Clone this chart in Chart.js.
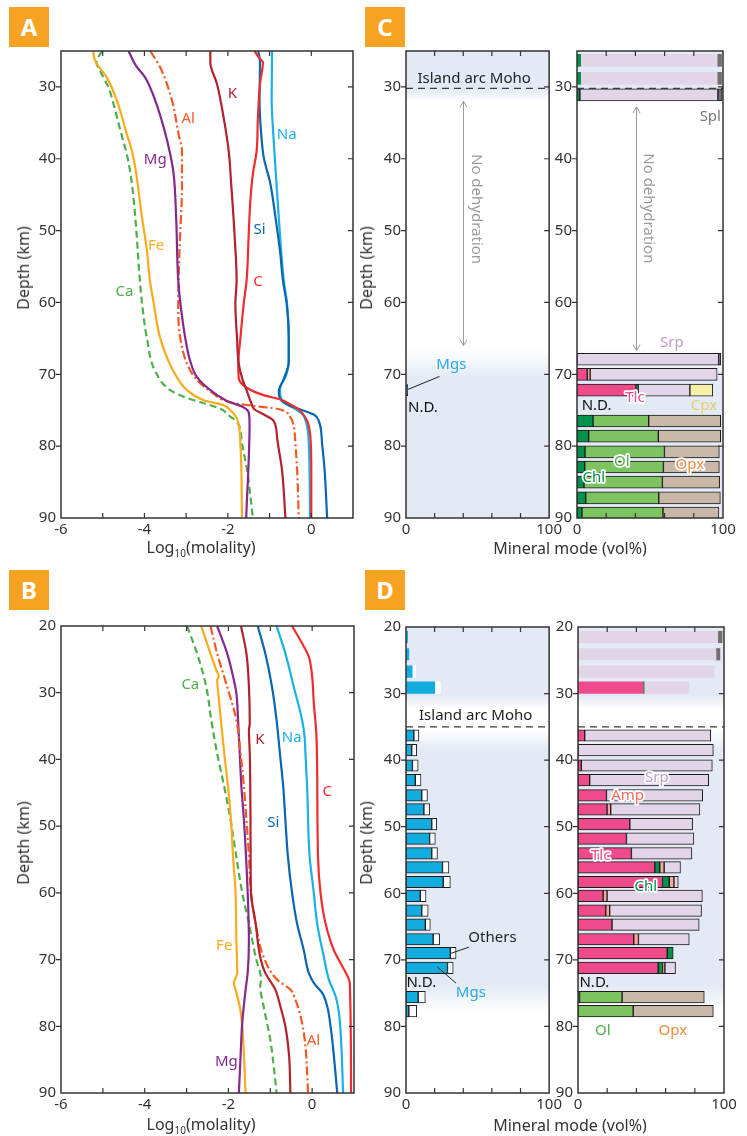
<!DOCTYPE html>
<html lang="en">
<head>
  <meta charset="UTF-8" />
  <title>Fluid chemistry and mineral modes</title>
  <script src="https://cdn.jsdelivr.net/npm/chart.js"></script>
  <style>
    body { margin: 0; background: #fff; font-family: 'Noto Sans', 'DejaVu Sans', sans-serif; color: #333; }
    #fig { position: relative; width: 747px; height: 1136px; overflow: hidden; }
    canvas { position: absolute; }
    .tag {
      position: absolute; width: 40px; height: 40px; background: #F6A323; color: #fff;
      font: bold 24px 'Noto Sans', sans-serif; text-align: center; line-height: 40px;
    }
    .ttl { position: absolute; font-size: 16px; white-space: nowrap; transform: translate(-50%, -50%); }
    .ttl.v { transform: translate(-50%, -50%) rotate(-90deg); }
    .ttl sub { font-size: 10px; }
  </style>
</head>
<body>
<div id="fig">
  <canvas id="chartA" width="370" height="560" style="left:0;top:0"></canvas>
  <canvas id="chartB" width="370" height="560" style="left:0;top:570px"></canvas>
  <canvas id="chartC1" width="200" height="560" style="left:365px;top:0"></canvas>
  <canvas id="chartC2" width="197" height="560" style="left:550px;top:0"></canvas>
  <canvas id="chartD1" width="200" height="560" style="left:365px;top:570px"></canvas>
  <canvas id="chartD2" width="197" height="560" style="left:550px;top:570px"></canvas>

  <div class="tag" style="left:9px;top:7px">A</div>
  <div class="tag" style="left:9px;top:570px">B</div>
  <div class="tag" style="left:365px;top:7px">C</div>
  <div class="tag" style="left:365px;top:570px">D</div>

  <div class="ttl v" style="left:23px;top:268px">Depth (km)</div>
  <div class="ttl v" style="left:23px;top:843px">Depth (km)</div>
  <div class="ttl v" style="left:366px;top:268px">Depth (km)</div>
  <div class="ttl v" style="left:366px;top:843px">Depth (km)</div>
  <div class="ttl" style="left:201px;top:548px">Log<sub>10</sub>(molality)</div>
  <div class="ttl" style="left:201px;top:1125px">Log<sub>10</sub>(molality)</div>
  <div class="ttl" style="left:570px;top:548px">Mineral mode (vol%)</div>
  <div class="ttl" style="left:570px;top:1125px">Mineral mode (vol%)</div>
</div>

<script>
  // ---- tick labels ----
  const depthTicksA = [30, 40, 50, 60, 70, 80, 90];
  const depthTicksB = [20, 30, 40, 50, 60, 70, 80, 90];
  const logTicks = [-6, -5, -4, -3, -2, -1, 0, 1];
  const modeTicks = [0, 20, 40, 60, 80, 100];

  // ---- A: [depth km, log10 molality] ----
  const A_K  = [[25,-2.42],[26.6,-2.42],[29.6,-2.26],[34.3,-2.10],[38.9,-1.98],[43.5,-1.92],[50.5,-1.84],[56.9,-1.79],[60.2,-1.82],[65,-1.78],[68.5,-1.74],[70.5,-1.66],[72.4,-1.54],[74,-1.44],[74.9,-1.36],[75.6,-1.14],[76.5,-0.90],[78.8,-0.82],[83.4,-0.70],[90,-0.62]];
  const A_C  = [[25,-1.36],[25.9,-1.26],[26.6,-1.16],[29.6,-1.23],[34.3,-1.28],[38.9,-1.31],[42.1,-1.40],[45.8,-1.46],[50.5,-1.50],[56.9,-1.55],[60.2,-1.62],[65,-1.70],[68.5,-1.75],[70.5,-1.74],[71.9,-1.54],[72.9,-1.14],[73.5,-0.74],[74.2,-0.50],[74.9,-0.30],[76.5,-0.10],[78.8,-0.02],[83.4,0.0],[90,0.0]];
  const A_Si = [[25,-1.27],[26.6,-1.23],[31.9,-1.24],[36.6,-1.20],[39.8,-1.14],[43.5,-0.98],[48.1,-0.86],[52.8,-0.75],[56.9,-0.68],[60.2,-0.59],[65,-0.54],[68.2,-0.54],[70.8,-0.67],[72.4,-0.78],[73.5,-0.74],[74.2,-0.58],[74.9,-0.26],[75.6,0.06],[76.5,0.18],[79.7,0.26],[83.4,0.32],[90,0.38]];
  const A_Na = [[25,-0.94],[31.9,-0.95],[36.6,-0.91],[41.2,-0.86],[48.1,-0.78],[56.9,-0.66],[60.2,-0.58],[65,-0.54],[68.2,-0.54],[70.4,-0.62],[71.9,-0.75],[73.5,-0.72],[74.7,-0.42],[75.5,-0.22],[77,-0.11],[79.7,-0.06],[90,-0.03]];
  const A_Mg = [[25,-4.38],[26.9,-4.22],[28.7,-3.98],[31.9,-3.74],[35.6,-3.54],[39.4,-3.38],[42.1,-3.30],[48.1,-3.24],[56.9,-3.19],[60,-3.14],[65,-3.02],[68.2,-2.90],[70.4,-2.74],[72.2,-2.42],[73.7,-2.02],[74.6,-1.62],[75.3,-1.50],[77,-1.48],[90,-1.56]];
  const A_Al = [[25,-3.86],[27.3,-3.62],[31.9,-3.34],[36.6,-3.18],[38.9,-3.10],[43.5,-3.10],[52.8,-3.16],[56.9,-3.18],[60.2,-3.19],[65,-3.14],[68.5,-2.98],[70.8,-2.74],[72.7,-2.34],[73.9,-1.94],[74.4,-1.38],[74.8,-0.82],[76,-0.50],[77,-0.43],[79.7,-0.38],[83.3,-0.34],[90,-0.30]];
  const A_Fe = [[25,-5.23],[26.4,-5.18],[28.7,-4.90],[31.9,-4.66],[36.6,-4.42],[38.9,-4.30],[41.2,-4.22],[48.1,-4.06],[52.8,-3.94],[56.9,-3.87],[60,-3.78],[65,-3.62],[69.6,-3.30],[72.2,-2.98],[73.6,-2.58],[74.3,-2.10],[75,-1.94],[76.2,-1.78],[79.7,-1.70],[90,-1.66]];
  const A_Ca = [[25,-5.02],[26.6,-5.15],[27.8,-5.06],[30.1,-4.86],[33.3,-4.70],[37.5,-4.51],[39.4,-4.42],[43.5,-4.30],[48.1,-4.22],[56.9,-4.11],[60,-4.06],[65,-3.94],[69.6,-3.74],[72.2,-3.38],[73.3,-2.98],[74,-2.58],[74.8,-2.18],[75.9,-1.94],[76.6,-1.78],[79.7,-1.66],[83.3,-1.54],[90,-1.40]];

  // ---- B: [depth km, log10 molality] ----
  const B_C  = [[20,-0.48],[22.6,-0.24],[24.6,-0.08],[27.6,0.0],[31.6,0.04],[36.1,0.10],[41.6,0.12],[54.5,0.14],[60,0.20],[64.6,0.32],[68.6,0.52],[71,0.72],[73,0.88],[73.5,0.90],[90,0.93]];
  const B_Na = [[20,-0.85],[24.1,-0.64],[29.1,-0.44],[34.1,-0.24],[36.6,-0.18],[39.1,-0.16],[44.1,-0.12],[54.5,-0.06],[60,0.04],[64.6,0.12],[69.6,0.28],[73,0.40],[75.5,0.56],[78,0.64],[82,0.69],[90,0.74]];
  const B_Si = [[20,-1.30],[24.1,-1.12],[29.1,-0.96],[34.1,-0.85],[39.1,-0.77],[44.1,-0.69],[49,-0.64],[54.5,-0.58],[60,-0.48],[64.6,-0.36],[68.6,-0.20],[72,-0.08],[73.5,0.04],[75,0.24],[77,0.36],[80,0.44],[82,0.48],[90,0.60]];
  const B_K  = [[20,-1.70],[24.1,-1.57],[29.1,-1.51],[34.6,-1.49],[35.6,-1.51],[39.1,-1.49],[54.5,-1.47],[60,-1.46],[64.6,-1.35],[69.6,-1.24],[72,-1.12],[74.5,-0.88],[77,-0.76],[80,-0.64],[84.5,-0.55],[90,-0.52]];
  const B_Al = [[20,-2.43],[24.1,-2.27],[29.1,-2.03],[34.1,-1.81],[39.1,-1.71],[44.1,-1.63],[49,-1.57],[54.5,-1.51],[60,-1.46],[64.6,-1.35],[69.6,-1.16],[73,-0.84],[74.5,-0.52],[76,-0.40],[79.5,-0.24],[83,-0.16],[87,-0.12],[90,-0.10]];
  const B_Mg = [[20,-2.27],[24.1,-2.03],[28.1,-1.87],[30.1,-1.81],[34.1,-1.77],[39.1,-1.73],[44.1,-1.69],[49,-1.63],[54.5,-1.58],[60,-1.54],[67.1,-1.51],[72,-1.54],[74.5,-1.59],[79.5,-1.67],[84.5,-1.71],[90,-1.75]];
  const B_Fe = [[20,-2.65],[24.1,-2.43],[26.6,-2.29],[27.6,-2.23],[28.1,-2.27],[29.6,-2.25],[34.1,-2.18],[39.1,-2.10],[44.1,-2.01],[49,-1.94],[54.5,-1.89],[60,-1.83],[67.1,-1.81],[72,-1.79],[73.5,-1.87],[74.5,-1.83],[77,-1.73],[80,-1.67],[90,-1.59]];
  const B_Ca = [[20,-2.99],[24.1,-2.75],[29.1,-2.53],[34.1,-2.41],[39.1,-2.27],[44.1,-2.10],[49,-1.95],[53,-1.85],[60,-1.67],[64.6,-1.51],[69.6,-1.35],[73,-1.22],[74,-1.24],[77,-1.16],[82,-1.0],[87,-0.9],[90,-0.85]];

  // ---- C: mineral modes (vol%) per depth row ----
  const cLeftDepth = [72.2];
  const cLeftOutlined = [1];
  const cLeftMgs = [1.2];

  const cDepth    = [26.3, 28.8, 31.1, 67.9, 70.0, 72.2, 76.5, 78.6, 80.8, 82.9, 85.0, 87.2, 89.3];
  const cOutlined = [0, 0, 1, 1, 1, 1, 1, 1, 1, 1, 1, 1, 1];
  const cTlc = [0, 0, 0, 0, 7, 40.4, 0, 0, 0, 0, 0, 0, 0];
  const cChl = [2.5, 2.5, 2, 0, 0, 1.5, 11, 8, 5.5, 5.3, 4.8, 6, 3.4];
  const cAmp = [0, 0, 0, 0, 2, 0, 0, 0, 0, 0, 0, 0, 0];
  const cOl  = [0, 0, 0, 0, 0, 0, 38.1, 47.7, 54.4, 53.9, 53.7, 50, 55.5];
  const cSrp = [93.5, 93.5, 94.5, 97, 87, 35.4, 0, 0, 0, 0, 0, 0, 0];
  const cOpx = [0, 0, 0, 0, 0, 0, 49.3, 42.7, 37.6, 38.3, 39.2, 42.2, 38.3];
  const cCpx = [0, 0, 0, 0, 0, 15.7, 0, 0, 0, 0, 0, 0, 0];
  const cSpl = [3, 3, 3, 1.5, 0, 0, 0, 0, 0, 0, 0, 0, 0];

  // ---- D: mineral modes (vol%) per depth row ----
  const dDepth    = [21.5, 24.1, 26.7, 29.1, 36.3, 38.5, 40.8, 43.0, 45.3, 47.4, 49.6, 51.8, 54.0, 56.1, 58.3, 60.4, 62.6, 64.7, 66.9, 69.0, 71.2, 75.6, 77.7];
  const dOutlined = [0, 0, 0, 0, 1, 1, 1, 1, 1, 1, 1, 1, 1, 1, 1, 1, 1, 1, 1, 1, 1, 1, 1];
  const dMgs    = [1.1, 2, 4.3, 20.1, 5.5, 4, 4.5, 6.5, 11, 12.5, 18, 16.5, 18, 25.5, 26, 10, 11, 13.5, 19, 31, 29, 8.5, 2];
  const dOthers = [0, 0, 2.3, 3.9, 3.5, 3.5, 4, 4, 4, 4, 3.5, 4, 4, 4.5, 5, 4, 4.5, 3.5, 4.5, 4, 4, 5, 5.5];
  const dTlc = [0, 0, 0, 44.6, 4.6, 0, 2.3, 8, 19.5, 19.9, 35.5, 33.2, 36.6, 52.6, 57.9, 17.2, 19, 23.3, 38.2, 61.1, 54.9, 0, 0];
  const dChl = [0, 0, 0, 0.7, 0, 0, 0, 0, 0, 0, 0, 0, 0, 3.4, 4.6, 0, 0, 0, 0, 4.1, 3, 1.1, 0];
  const dAmp = [0, 0, 0, 0, 0, 0, 0, 0, 0, 2.5, 0, 0, 0, 3, 3.2, 2.7, 2.7, 0, 3.2, 0, 1.6, 0, 0];
  const dOl  = [0, 0, 0, 0, 0, 0, 0, 0, 0, 0, 0, 0, 0, 0, 0, 0, 0, 0, 0, 0, 0, 29.1, 37.8];
  const dSrp = [95.7, 94.5, 93.4, 30.7, 86.3, 92.7, 89.7, 81.5, 65.9, 61.1, 43, 46.2, 41.4, 11.2, 3, 65.3, 62.9, 59.7, 34.8, 0, 7.3, 0, 0];
  const dOpx = [0, 0, 0, 0, 0, 0, 0, 0, 0, 0, 0, 0, 0, 0, 0, 0, 0, 0, 0, 0, 0, 56.3, 54.9];
  const dSpl = [3, 2.7, 0, 0, 0, 0, 0, 0, 0, 0, 0, 0, 0, 0, 0, 0, 0, 0, 0, 0, 0, 0, 0];

  // ---- styles ----
  const elemColor = {
    K: '#B3212E', C: '#EE2D2F', Si: '#0A66B0', Na: '#19B1E6',
    Mg: '#85298F', Al: '#F15A25', Fe: '#F8AB1D', Ca: '#4DAF4A'
  };
  const elemDash = { Al: [9, 3, 2, 3], Ca: [7, 4] };
  const minColor = {
    Tlc: '#EE4A8C', Chl: '#00924B', Amp: '#F5A89C', Ol: '#7DC360', Srp: '#E3D5E8',
    Opx: '#C9B8A7', Cpx: '#F7F0A9', Spl: '#707070', Mgs: '#12ADDE', Others: '#ffffff'
  };
  const paleBlue = '#E3EAF5';
  const FONT = "'Noto Sans', 'DejaVu Sans', sans-serif";

  Chart.defaults.font.family = FONT;
  Chart.defaults.font.size = 15;
  Chart.defaults.color = '#333';
  Chart.defaults.animation = false;
  Chart.defaults.plugins.legend.display = false;
  Chart.defaults.plugins.tooltip.enabled = false;

  // draws background bands, frame, inward ticks and annotations
  const decor = {
    id: 'decor',
    beforeDatasetsDraw(chart, _args, o) {
      if (!o.bg) return;
      const { ctx, chartArea: a, scales: { y } } = chart;
      const g = ctx.createLinearGradient(0, a.top, 0, a.bottom);
      o.bg.forEach(([d, c]) => {
        const f = (y.getPixelForValue(d) - a.top) / a.height;
        g.addColorStop(Math.min(1, Math.max(0, f)), c);
      });
      ctx.save();
      ctx.fillStyle = g;
      ctx.fillRect(a.left, a.top, a.width, a.height);
      ctx.restore();
    },
    afterDraw(chart, _args, o) {
      const { ctx, chartArea: a, scales: { x, y } } = chart;
      const px = v => x.getPixelForValue(v), py = v => y.getPixelForValue(v);
      ctx.save();

      if (o.moho != null) {
        ctx.strokeStyle = '#3a3a3a'; ctx.lineWidth = 1.4; ctx.setLineDash([7, 5]);
        ctx.beginPath(); ctx.moveTo(a.left, py(o.moho)); ctx.lineTo(a.right, py(o.moho)); ctx.stroke();
        ctx.setLineDash([]);
      }
      (o.leaders || []).forEach(([x1, y1, x2, y2]) => {
        ctx.strokeStyle = '#222'; ctx.lineWidth = 1;
        ctx.beginPath(); ctx.moveTo(px(x1), py(y1)); ctx.lineTo(px(x2), py(y2)); ctx.stroke();
      });
      (o.arrows || []).forEach(([xv, y1, y2]) => {
        const X = Math.round(px(xv)) + 0.5, T = py(y1), B = py(y2);
        ctx.strokeStyle = '#9a9a9a'; ctx.lineWidth = 1;
        ctx.beginPath();
        ctx.moveTo(X, T); ctx.lineTo(X, B);
        ctx.moveTo(X - 3.5, T + 6); ctx.lineTo(X, T); ctx.lineTo(X + 3.5, T + 6);
        ctx.moveTo(X - 3.5, B - 6); ctx.lineTo(X, B); ctx.lineTo(X + 3.5, B - 6);
        ctx.stroke();
      });
      (o.labels || []).forEach(l => {
        ctx.save();
        ctx.font = `${l.w || 400} ${l.s || 15}px ${FONT}`;
        ctx.textAlign = l.align || 'center';
        ctx.textBaseline = 'middle';
        ctx.translate(px(l.x), py(l.y));
        if (l.rot) ctx.rotate(l.rot);
        if (l.halo) {
          ctx.strokeStyle = '#fff'; ctx.lineWidth = 3.5; ctx.lineJoin = 'round';
          ctx.strokeText(l.t, 0, 0);
        }
        ctx.fillStyle = l.c || '#222';
        ctx.fillText(l.t, 0, 0);
        ctx.restore();
      });

      ctx.strokeStyle = '#333'; ctx.lineWidth = 1.5;
      ctx.strokeRect(a.left, a.top, a.width, a.height);

      ctx.lineWidth = 1.2;
      ctx.beginPath();
      x.ticks.forEach(t => {
        const p = px(t.value);
        if (p <= a.left + 1 || p >= a.right - 1) return;
        ctx.moveTo(p, a.bottom); ctx.lineTo(p, a.bottom - 5);
        ctx.moveTo(p, a.top); ctx.lineTo(p, a.top + 5);
      });
      y.ticks.forEach(t => {
        const p = py(t.value);
        if (p <= a.top + 1 || p >= a.bottom - 1) return;
        ctx.moveTo(a.left - 5, p); ctx.lineTo(a.left, p);
        ctx.moveTo(a.right, p); ctx.lineTo(a.right - 5, p);
      });
      ctx.stroke();
      ctx.restore();
    }
  };

  function depthAxis(min, ticks, width) {
    return {
      type: 'linear', reverse: true, min, max: 90,
      afterBuildTicks: s => { s.ticks = ticks.map(value => ({ value })); },
      afterFit: s => { s.width = width; },
      ticks: { padding: 5, autoSkip: false, color: '#333' },
      grid: { display: false, drawTicks: false },
      border: { display: false }
    };
  }

  function valueAxis(min, max, ticks, height, show) {
    return {
      type: 'linear', min, max,
      afterBuildTicks: s => { s.ticks = ticks.map(value => ({ value })); },
      afterFit: s => { s.height = height; },
      ticks: { padding: 3, autoSkip: false, maxRotation: 0, color: '#333', callback: v => show(v) ? String(v) : '' },
      grid: { display: false, drawTicks: false },
      border: { display: false }
    };
  }

  function lineSets(series) {
    return series.map(([name, pts]) => ({
      label: name,
      data: pts.map(([d, v]) => ({ x: v, y: d })),
      borderColor: elemColor[name],
      borderWidth: 2.2,
      borderDash: elemDash[name] || [],
      pointRadius: 0,
      cubicInterpolationMode: 'monotone',
      fill: false
    }));
  }

  function barSets(depths, outlined, series, thick) {
    return series.map(([name, vals]) => ({
      label: name,
      data: depths.map((d, i) => ({ x: vals[i], y: d, o: outlined[i] })).filter(p => p.x > 0),
      backgroundColor: minColor[name],
      borderColor: '#1c1c1c',
      borderWidth: c => (c.raw && c.raw.o ? 1 : 0),
      borderSkipped: false,
      barThickness: thick,
      stack: 'mode'
    }));
  }

  function profileChart(id, series, yMin, yTicks, pad, xH, labels) {
    new Chart(document.getElementById(id), {
      type: 'line',
      data: { datasets: lineSets(series) },
      options: {
        responsive: false, indexAxis: 'y',
        layout: { padding: pad },
        scales: {
          x: valueAxis(-6, 1, logTicks, xH, v => v % 2 === 0),
          y: depthAxis(yMin, yTicks, 61)
        },
        plugins: { decor: { labels } }
      },
      plugins: [decor]
    });
  }

  function modeChart(id, datasets, yMin, yTicks, yW, pad, xH, deco) {
    new Chart(document.getElementById(id), {
      type: 'bar',
      data: { datasets },
      options: {
        responsive: false, indexAxis: 'y',
        layout: { padding: pad },
        scales: {
          x: Object.assign(valueAxis(0, 100, modeTicks, xH, v => v === 0 || v === 100), { stacked: true }),
          y: Object.assign(depthAxis(yMin, yTicks, yW), { stacked: true, offset: false })
        },
        plugins: { decor: deco }
      },
      plugins: [decor]
    });
  }

  const lab = (t, x, y, c, extra) => Object.assign({ t, x, y, c }, extra || {});

  // ---- A ----
  profileChart('chartA',
    [['K', A_K], ['C', A_C], ['Si', A_Si], ['Na', A_Na], ['Mg', A_Mg], ['Al', A_Al], ['Fe', A_Fe], ['Ca', A_Ca]],
    25, depthTicksA, { top: 51, right: 17, left: 0, bottom: 0 }, 42,
    [lab('K', -1.89, 31.0, elemColor.K), lab('Al', -2.95, 34.4, elemColor.Al), lab('Na', -0.59, 36.6, elemColor.Na),
     lab('Mg', -3.74, 40.2, elemColor.Mg), lab('Si', -1.24, 49.9, elemColor.Si), lab('Fe', -3.72, 52.1, elemColor.Fe),
     lab('C', -1.28, 57.1, elemColor.C), lab('Ca', -4.48, 58.5, elemColor.Ca)]);

  // ---- B ----
  profileChart('chartB',
    [['C', B_C], ['Na', B_Na], ['Si', B_Si], ['K', B_K], ['Al', B_Al], ['Mg', B_Mg], ['Fe', B_Fe], ['Ca', B_Ca]],
    20, depthTicksB, { top: 56, right: 16, left: 0, bottom: 0 }, 37,
    [lab('Ca', -2.91, 28.8, elemColor.Ca), lab('K', -1.25, 37.0, elemColor.K), lab('Na', -0.49, 36.7, elemColor.Na),
     lab('C', 0.36, 44.8, elemColor.C), lab('Si', -0.93, 49.5, elemColor.Si), lab('Fe', -2.1, 67.9, elemColor.Fe),
     lab('Mg', -2.05, 85.3, elemColor.Mg), lab('Al', 0.03, 82.2, elemColor.Al)]);

  const bgC = [[25, paleBlue], [30.4, paleBlue], [32, '#ffffff'], [66.5, '#ffffff'], [70.5, paleBlue], [90, paleBlue]];
  const bgD = [[20, paleBlue], [30.3, paleBlue], [32.3, '#ffffff'], [35.3, '#ffffff'], [38.5, paleBlue], [73.8, paleBlue], [77.8, '#ffffff'], [90, '#ffffff']];
  const grey = '#9a9a9a';
  const rot90 = Math.PI / 2;

  // ---- C left ----
  modeChart('chartC1',
    barSets(cLeftDepth, cLeftOutlined, [['Mgs', cLeftMgs]], 11),
    25, depthTicksA, 41, { top: 51, right: 14, left: 0, bottom: 0 }, 42,
    { bg: bgC, moho: 30.2,
      arrows: [[40, 32, 66]],
      leaders: [[1.4, 72.1, 23.4, 70.3]],
      labels: [lab('Island arc Moho', 47.6, 28.9, '#222'),
               lab('No dehydration', 49, 47, grey, { rot: rot90 }),
               lab('Mgs', 31.7, 68.6, '#29A9E0'),
               lab('N.D.', 1.4, 74.6, '#111', { align: 'left' })] });

  // ---- C right ----
  modeChart('chartC2',
    barSets(cDepth, cOutlined, [['Tlc', cTlc], ['Chl', cChl], ['Amp', cAmp], ['Ol', cOl], ['Srp', cSrp], ['Opx', cOpx], ['Cpx', cCpx], ['Spl', cSpl]], 12),
    25, depthTicksA, 27, { top: 51, right: 24, left: 0, bottom: 0 }, 42,
    { bg: bgC, moho: 30.2,
      arrows: [[40.4, 32.8, 66.7]],
      labels: [lab('No dehydration', 48.6, 46.9, grey, { rot: rot90 }),
               lab('Spl', 91.3, 34.2, '#777'),
               lab('Srp', 65, 65.6, '#C39BC9'),
               lab('Tlc', 39.7, 73.3, minColor.Tlc, { halo: true }),
               lab('N.D.', 3.2, 74.4, '#111', { align: 'left' }),
               lab('Cpx', 87, 74.4, '#E2CF6C'),
               lab('Ol', 30.7, 82.1, '#4FAE47', { halo: true }),
               lab('Opx', 77.3, 82.6, '#EF8A3B', { halo: true }),
               lab('Chl', 11.5, 84.4, minColor.Chl, { halo: true })] });

  // ---- D left ----
  modeChart('chartD1',
    barSets(dDepth, dOutlined, [['Mgs', dMgs], ['Others', dOthers]], 11.5),
    20, depthTicksB, 41, { top: 57, right: 14, left: 0, bottom: 0 }, 37,
    { bg: bgD, moho: 35.0,
      leaders: [[31.6, 69.0, 43.9, 68.1], [22, 71.1, 35, 73.5]],
      labels: [lab('Island arc Moho', 48.7, 33.4, '#222'),
               lab('Others', 60.4, 66.7, '#222'),
               lab('Mgs', 45.3, 74.9, '#29A9E0'),
               lab('N.D.', 0.3, 73.5, '#111', { align: 'left' })] });

  // ---- D right ----
  modeChart('chartD2',
    barSets(dDepth, dOutlined, [['Tlc', dTlc], ['Chl', dChl], ['Amp', dAmp], ['Ol', dOl], ['Srp', dSrp], ['Opx', dOpx], ['Spl', dSpl]], 11.5),
    20, depthTicksB, 28, { top: 57, right: 23, left: 0, bottom: 0 }, 37,
    { bg: bgD, moho: 35.0,
      labels: [lab('Srp', 54, 42.7, '#C39BC9', { halo: true }),
               lab('Amp', 34, 45.3, '#F26B5E', { halo: true }),
               lab('Tlc', 15.5, 54.3, minColor.Tlc, { halo: true }),
               lab('Chl', 46.4, 59.0, minColor.Chl, { halo: true }),
               lab('N.D.', 1, 73.5, '#111', { align: 'left' }),
               lab('Ol', 17, 80.6, '#4FAE47'),
               lab('Opx', 65, 80.6, '#EF8A3B')] });
</script>
</body>
</html>
